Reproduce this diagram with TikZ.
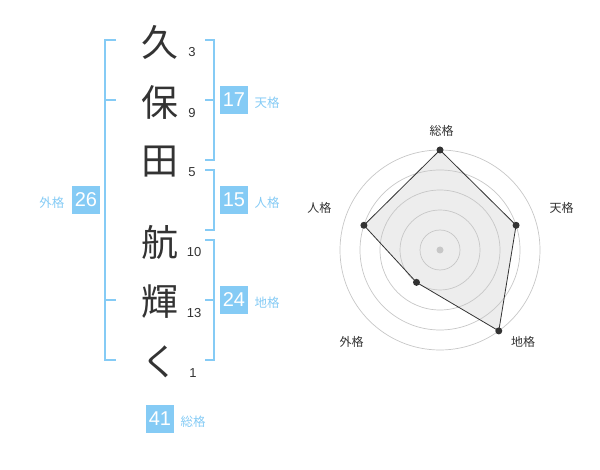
\documentclass[tikz,border=0pt]{standalone}
\usepackage{fontspec}
\setmainfont{Liberation Sans}
\newfontfamily\jpfont{Noto Sans CJK JP}
\usetikzlibrary{positioning}
\definecolor{brk}{HTML}{85CBF5}
\definecolor{ink}{HTML}{333333}

\begin{document}
\begin{tikzpicture}[x=1pt,y=-1pt,
    kanji/.style={font=\jpfont\fontsize{37}{37}\selectfont,text=ink},
    kaku/.style={font=\fontsize{13}{13}\selectfont,text=ink},
    kakubox/.style={fill=brk,text=white,minimum size=28.5pt,inner sep=0pt,font=\fontsize{20}{20}\selectfont},
    kakulbl/.style={text=brk,font=\jpfont\fontsize{12.5}{12.5}\selectfont,inner sep=0pt},
    radlbl/.style={text=ink,font=\jpfont\fontsize{12}{12}\selectfont},
    dot/.style={circle,fill=ink,inner sep=0pt,minimum size=7pt}]
    \useasboundingbox (0,0) rectangle (600,470);
    % name
    \node[kanji] (k1) at (160,42) {久};  \node[kaku] (n1) at (192,52) {3};
    \node[kanji] (k2) at (160,102) {保}; \node[kaku] (n2) at (192,113) {9};
    \node[kanji] (k3) at (160,162) {田}; \node[kaku] (n3) at (192,172) {5};
    \node[kanji] (k4) at (160,242) {航}; \node[kaku] (n4) at (194,252) {10};
    \node[kanji] (k5) at (160,302) {輝}; \node[kaku] (n5) at (194,313) {13};
    \node[kanji] (k6) at (160,362) {く}; \node[kaku] (n6) at (193,373) {1};
    % brackets
    \draw[brk,line width=2pt] (116,40) -- (105,40) -- (105,360) -- (116,360);
    \draw[brk,line width=2pt] (105,100) -- (116,100); \draw[brk,line width=2pt] (105,300) -- (116,300);
    \draw[brk,line width=2pt] (205,40) -- (214,40) -- (214,160) -- (205,160); \draw[brk,line width=2pt] (205,100) -- (214,100);
    \draw[brk,line width=2pt] (205,170) -- (214,170) -- (214,230) -- (205,230);
    \draw[brk,line width=2pt] (205,240) -- (214,240) -- (214,360) -- (205,360); \draw[brk,line width=2pt] (205,300) -- (214,300);
    % kakusu
    \node[kakubox] (ten) at (234,100) {17}; \node[kakulbl,right=6pt of ten,yshift=-3pt] (tenl) {天格};
    \node[kakubox] (jin) at (234,200) {15}; \node[kakulbl,right=6pt of jin,yshift=-3pt] (jinl) {人格};
    \node[kakubox] (chi) at (234,300) {24}; \node[kakulbl,right=6pt of chi,yshift=-3pt] (chil) {地格};
    \node[kakubox] (gai) at (86,200) {26};  \node[kakulbl,left=7pt of gai,yshift=-3pt] (gail) {外格};
    \node[kakubox] (sou) at (160,419) {41}; \node[kakulbl,right=6pt of sou,yshift=-3pt] (soul) {総格};
    % radar
    \begin{scope}[shift={(440,250)},yscale=-1]
      \coordinate (pS) at (90:100);
      \coordinate (pT) at (18:80);
      \coordinate (pC) at (-54:100);
      \coordinate (pG) at (-126:40);
      \coordinate (pJ) at (162:80);
      \fill[black!7] (pS) -- (pT) -- (pC) -- (pG) -- (pJ) -- cycle;
      \foreach \r in {20,40,...,100} \draw[black!22,line width=0.7pt] (0,0) circle (\r);
      \node[circle,fill=black!22,inner sep=0pt,minimum size=7pt] (c) at (0,0) {};
      \draw[ink,line width=0.8pt] (pS) -- (pT) -- (pC) -- (pG) -- (pJ) -- cycle;
      \foreach \p in {pS,pT,pC,pG,pJ} \node[dot] at (\p) {};
      \node[radlbl] (lS) at (1.7,119.3) {総格};
      \node[radlbl] (lT) at (121.7,41.7) {天格};
      \node[radlbl] (lC) at (83,-91.7) {地格};
      \node[radlbl] (lG) at (-88.3,-91.7) {外格};
      \node[radlbl] (lJ) at (-120.7,41.7) {人格};
    \end{scope}
  \end{tikzpicture}
\end{document}
